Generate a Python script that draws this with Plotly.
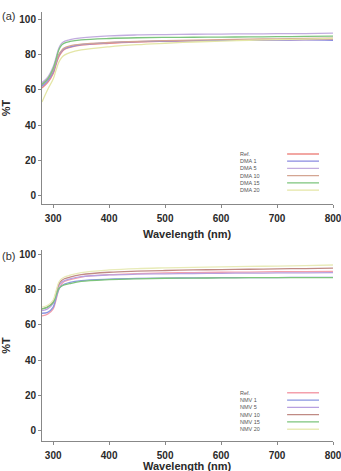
import plotly.graph_objects as go

wavelength = [280, 290, 300, 305, 310, 315, 320, 330, 350, 400, 450, 500, 550, 600, 650, 700, 750, 800]

# Panel (a): DMA series
a_names = ["Ref.", "DMA 1", "DMA 5", "DMA 10", "DMA 15", "DMA 20"]
a_ref   = [61, 64, 69, 74, 78.5, 81.2, 82.8, 84, 85.2, 86.3, 87, 87.4, 87.7, 87.9, 88, 88.2, 88.3, 88.5]
a_dma1  = [62, 65, 70, 75, 79.5, 81.8, 83.2, 84.3, 85.5, 86.6, 87.2, 87.5, 87.7, 87.9, 88, 88.1, 88.2, 88]
a_dma5  = [64, 67, 73, 78, 83.5, 86.2, 87.4, 88.3, 89.3, 90.5, 91, 91.2, 91.4, 91.5, 91.6, 91.7, 91.8, 92]
a_dma10 = [63, 66, 71, 76, 80, 82.3, 83.7, 84.8, 85.8, 86.8, 87.4, 87.8, 88.1, 88.4, 88.6, 88.8, 89, 89.2]
a_dma15 = [63, 66, 72, 77, 82.5, 85.2, 86.4, 87.3, 88.2, 89, 89.4, 89.6, 89.7, 89.8, 89.9, 90, 90.2, 90.3]
a_dma20 = [53, 60, 66, 71, 75.5, 78.2, 79.6, 81, 82.5, 84.3, 85.5, 86.3, 87, 87.5, 88, 88.3, 88.6, 89]

# Panel (b): NMV series
b_names = ["Ref.", "NMV 1", "NMV 5", "NMV 10", "NMV 15", "NMV 20"]
b_ref   = [65, 66, 69, 74, 80, 83, 84.5, 85.5, 87, 88.3, 88.9, 89.3, 89.5, 89.7, 89.8, 90, 90.1, 90.2]
b_nmv1  = [66.5, 67, 70, 75, 80, 82, 83, 84, 85, 85.8, 86.2, 86.4, 86.5, 86.6, 86.7, 86.7, 86.8, 86.8]
b_nmv5  = [68, 69, 72, 77, 82, 84, 85, 86, 87.2, 88.2, 88.6, 88.8, 89, 89.1, 89.2, 89.3, 89.4, 89.5]
b_nmv10 = [69, 70, 73, 78, 83, 85, 86, 87, 88.3, 89.7, 90.3, 90.7, 91, 91.2, 91.4, 91.6, 91.8, 92]
b_nmv15 = [69, 70, 72.5, 76.5, 80.5, 81.8, 82.5, 83.3, 84.5, 85.5, 86, 86.3, 86.4, 86.5, 86.6, 86.6, 86.7, 86.7]
b_nmv20 = [70, 71, 74, 79, 84, 86, 87, 88, 89.5, 91, 91.8, 92.2, 92.5, 92.7, 93, 93.2, 93.5, 93.8]

a_colors = ["#ee8a84", "#8a8ae0", "#c2acdf", "#d4a592", "#7cc47c", "#e4e6a6"]
b_colors = ["#f4a0ac", "#8a96e0", "#b8a0e0", "#c08a84", "#7cc47c", "#e8ebb8"]

x_ticks = [300, 400, 500, 600, 700, 800]
y_ticks = [0, 20, 40, 60, 80, 100]

fig = go.Figure()

a_series = [a_ref, a_dma1, a_dma5, a_dma10, a_dma15, a_dma20]
b_series = [b_ref, b_nmv1, b_nmv5, b_nmv10, b_nmv15, b_nmv20]

for name, ys, c in zip(a_names, a_series, a_colors):
    fig.add_trace(go.Scatter(x=wavelength, y=ys, mode="lines", name=name,
                             line=dict(color=c, width=1.3, shape="spline"),
                             xaxis="x", yaxis="y", showlegend=False))
for name, ys, c in zip(b_names, b_series, b_colors):
    fig.add_trace(go.Scatter(x=wavelength, y=ys, mode="lines", name=name,
                             line=dict(color=c, width=1.3, shape="spline"),
                             xaxis="x2", yaxis="y2", showlegend=False))

FONT = "Liberation Sans, Arial, sans-serif"
tickfont = dict(family=FONT, size=10, color="#2a2a2a")
titlefont = dict(family=FONT, size=11, color="#2a2a2a")

def xaxis_cfg(anchor):
    return dict(range=[280, 800], tickvals=x_ticks, ticktext=["<b>%d</b>" % v for v in x_ticks],
                tickfont=tickfont, ticks="outside", ticklen=3, tickcolor="#888888",
                ticklabelstandoff=2, ticklabeloverflow="allow", automargin=False,
                showline=True, linecolor="#888888", linewidth=1, showgrid=False,
                zeroline=False, anchor=anchor)

def yaxis_cfg(anchor, domain, rng):
    return dict(range=rng, domain=domain, tickvals=y_ticks, ticktext=["<b>%d</b>" % v for v in y_ticks],
                tickfont=tickfont, ticks="outside", ticklen=3, tickcolor="#888888",
                automargin=False,
                showline=True, linecolor="#888888", linewidth=1, showgrid=False,
                zeroline=False, anchor=anchor,
                title=dict(text="<b>%T</b>", font=titlefont, standoff=6))

fig.update_layout(
    width=341, height=471,
    margin=dict(l=42, r=8, t=10, b=30),
    paper_bgcolor="white", plot_bgcolor="white",
    xaxis=xaxis_cfg("y"),
    yaxis=yaxis_cfg("x", [0.5499, 0.9954], [-4.7, 104]),
    xaxis2=xaxis_cfg("y2"),
    yaxis2=yaxis_cfg("x2", [0.0, 0.4432], [-5.8, 102.3]),
)

shapes = []
annotations = []
legfont = dict(family=FONT, size=5.5, color="#555555")
# Legend (a)
for i, (name, c) in enumerate(zip(a_names, a_colors)):
    yv = 23.6 - 4.08 * i
    shapes.append(dict(type="line", xref="x", yref="y", x0=718, x1=775, y0=yv, y1=yv,
                       line=dict(color=c, width=1.3)))
    annotations.append(dict(x=630, y=yv, xref="x", yref="y", text=name, showarrow=False,
                            xanchor="left", yanchor="middle", font=legfont))
# Legend (b)
for i, (name, c) in enumerate(zip(b_names, b_colors)):
    yv = 21.5 - 4.13 * i
    shapes.append(dict(type="line", xref="x2", yref="y2", x0=718, x1=775, y0=yv, y1=yv,
                       line=dict(color=c, width=1.3)))
    annotations.append(dict(x=630, y=yv, xref="x2", yref="y2", text=name, showarrow=False,
                            xanchor="left", yanchor="middle", font=legfont))

# x-axis titles as annotations (precise placement)
annotations.append(dict(xref="x domain", yref="paper", x=0.5, y=0.4803, xanchor="center", yanchor="middle",
                        text="<b>Wavelength (nm)</b>", showarrow=False, font=titlefont))
annotations.append(dict(xref="x2 domain", yref="paper", x=0.5, y=-0.0580, xanchor="center", yanchor="middle",
                        text="<b>Wavelength (nm)</b>", showarrow=False, font=titlefont))

panel_font = dict(family=FONT, size=11, color="#333333")
annotations.append(dict(xref="x domain", yref="y domain", x=-0.145, y=0.98,
                        xanchor="left", yanchor="middle", text="(a)", showarrow=False, font=panel_font))
annotations.append(dict(xref="x2 domain", yref="y2 domain", x=-0.145, y=0.97,
                        xanchor="left", yanchor="middle", text="(b)", showarrow=False, font=panel_font))

fig.update_layout(shapes=shapes, annotations=annotations)

fig.write_html("out.html")
